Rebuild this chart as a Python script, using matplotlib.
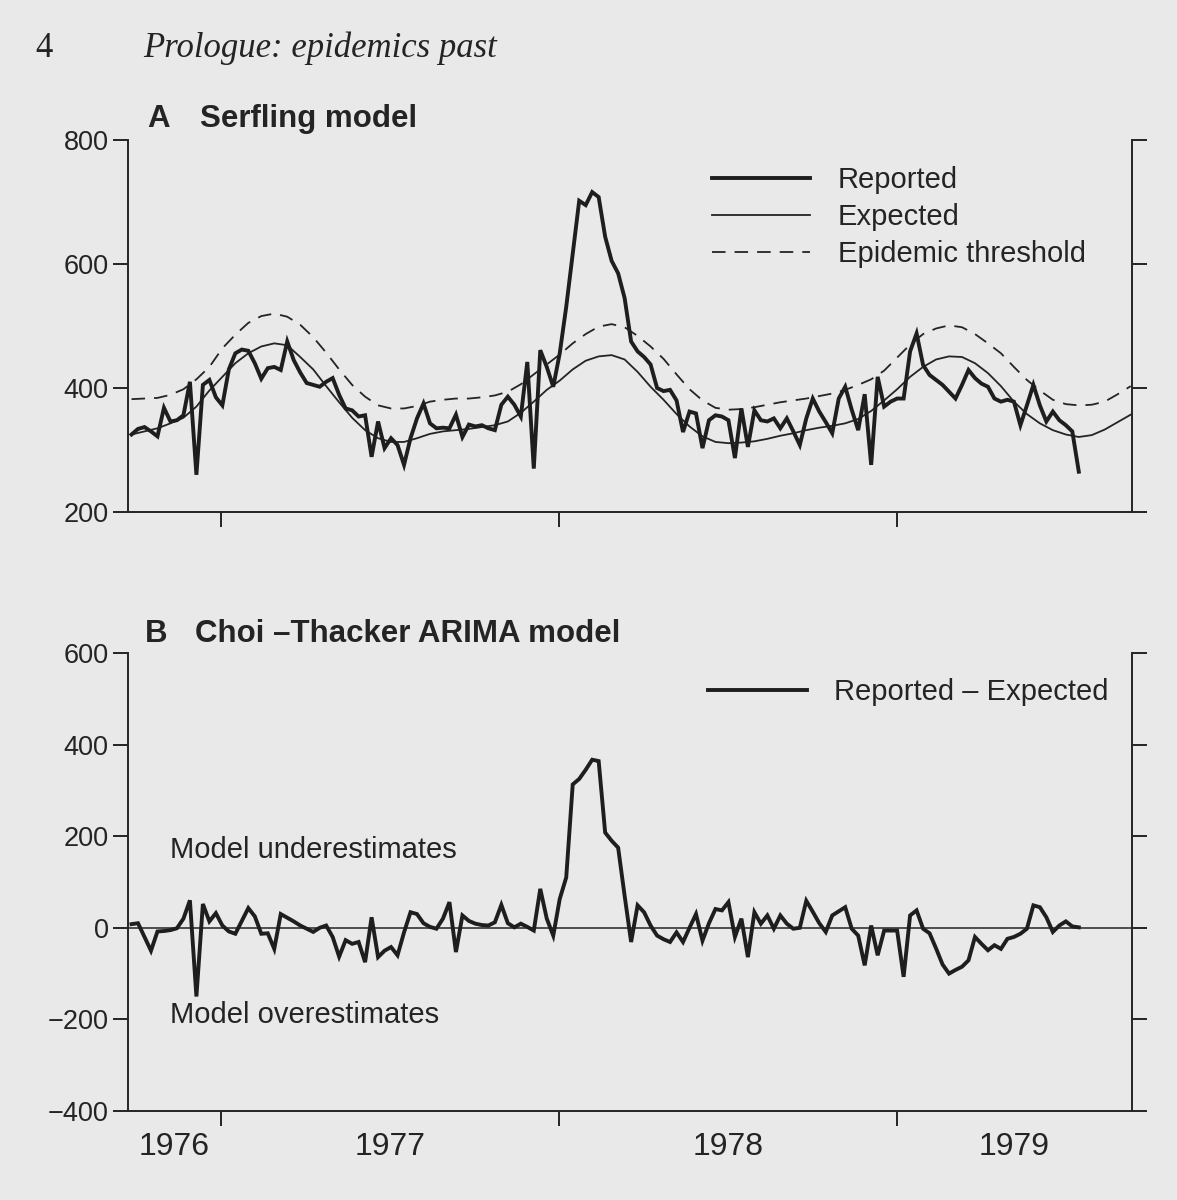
import numpy as np
import pandas as pd
import matplotlib
matplotlib.use('Agg')
import matplotlib.pyplot as plt
import matplotlib.dates as mdates
from matplotlib.ticker import FixedLocator, FixedFormatter, NullFormatter
from matplotlib import font_manager

# ---------------- data ----------------
# weekly series, first week starting 1976-09-27
reported = [
    325, 334, 337, 330, 322, 368, 346, 348, 356, 410,
    260, 405, 413, 385, 372, 430, 456, 462, 460, 440,
    415, 432, 434, 429, 475, 445, 425, 408, 405, 402,
    410, 416, 389, 367, 364, 354, 356, 289, 346, 303,
    319, 308, 276, 319, 351, 375, 343, 335, 336, 335,
    357, 321, 341, 338, 340, 335, 332, 373, 386, 373,
    354, 442, 270, 461, 434, 402, 456, 531, 617, 702,
    695, 716, 708, 644, 605, 585, 545, 475, 459, 450,
    438, 400, 395, 397, 380, 329, 362, 359, 303, 348,
    356, 354, 348, 287, 367, 305, 364, 348, 346, 351,
    335, 351, 330, 308, 351, 383, 362, 345, 327, 383,
    402, 365, 332, 390, 276, 418, 370, 378, 383, 383,
    459, 488, 437, 421, 413, 405, 394, 383, 405, 429,
    416, 407, 402, 383, 378, 381, 378, 340, 372, 405,
    372, 346, 362, 348, 340, 330, 265]

# Serfling expected and epidemic threshold, every two weeks
expected = [
    325, 330, 335, 343, 352, 370, 396, 418, 440, 456,
    467, 472, 469, 450, 430, 403, 377, 352, 332, 319,
    313, 313, 319, 326, 330, 332, 334, 337, 340, 346,
    360, 378, 397, 412, 430, 444, 451, 453, 446, 426,
    402, 381, 358, 338, 322, 313, 311, 312, 314, 318,
    323, 327, 332, 336, 339, 343, 350, 363, 380, 398,
    418, 434, 446, 451, 450, 440, 424, 403, 378, 358,
    343, 332, 325, 321, 324, 333, 345, 357]
threshold = [
    382, 383, 384, 389, 398, 414, 434, 464, 486, 505,
    516, 520, 515, 502, 482, 457, 430, 405, 386, 372,
    367, 367, 371, 378, 381, 383, 383, 385, 388, 394,
    406, 422, 438, 454, 472, 487, 499, 503, 498, 484,
    467, 447, 422, 398, 380, 368, 365, 366, 369, 373,
    377, 380, 383, 387, 391, 397, 405, 414, 428, 449,
    470, 487, 496, 501, 498, 487, 472, 456, 434, 413,
    396, 381, 374, 372, 373, 378, 390, 403]

# Choi-Thacker ARIMA residual (reported - expected), weekly
residual = [
    8, 10, -20, -50, -8, -7, -5, -1, 20, 60,
    -150, 52, 14, 32, 5, -8, -13, 15, 43, 25,
    -13, -12, -46, 30, 22, 14, 5, -2, -9, 0,
    5, -20, -63, -27, -35, -31, -75, 23, -64, -50,
    -42, -60, -10, 34, 30, 10, 2, -2, 20, 56,
    -53, 27, 15, 9, 6, 5, 12, 50, 10, 1,
    9, 2, -6, 85, 20, -17, 63, 110, 313, 325,
    345, 367, 364, 208, 190, 175, 70, -31, 49, 34,
    5, -17, -25, -31, -10, -31, 0, 30, -28, 10,
    41, 38, 56, -20, 20, -64, 34, 9, 27, -2,
    27, 9, -2, 0, 59, 35, 10, -9, 27, 36,
    45, -2, -17, -82, 5, -60, -6, -6, -6, -107,
    27, 38, -2, -12, -45, -80, -100, -92, -85, -71,
    -20, -35, -49, -38, -46, -24, -20, -13, -2, 49,
    45, 23, -9, 5, 14, 3, 1]

year_labels = ['1976', '1977', '1978', '1979']
yticks_A = [200, 400, 600, 800]
yticks_B = [-400, -200, 0, 200, 400, 600]

start = pd.Timestamp('1976-09-27')
weeks = pd.date_range(start, periods=len(reported), freq='7D')
weeks2 = pd.date_range(start, periods=len(expected), freq='14D')

# ---------------- styling ----------------
names = {f.name for f in font_manager.fontManager.ttflist}
narrow = 'Liberation Sans Narrow' if 'Liberation Sans Narrow' in names else 'Liberation Sans'
plt.rcParams['font.family'] = ['Liberation Sans', 'DejaVu Sans']
ink = '#242424'

W, H = 1177, 1200
def fx(px):
    return px / W
def fy(py):
    return 1 - py / H

fig = plt.figure(figsize=(W / 100, H / 100), dpi=100)
fig.patch.set_facecolor('#e9e9e9')

L, R = 128, 1132
axA = fig.add_axes([fx(L), fy(512), fx(R) - fx(L), fy(140) - fy(512)])
axB = fig.add_axes([fx(L), fy(1111), fx(R) - fx(L), fy(653) - fy(1111)])

x0 = mdates.date2num(start - pd.Timedelta(days=3.8))
x1 = mdates.date2num(start + pd.Timedelta(weeks=154.2))
bounds = [mdates.date2num(pd.Timestamp(f'{y}-01-01')) for y in (1977, 1978, 1979)]
centers = [(x0 + bounds[0]) / 2,
           (bounds[0] + bounds[1]) / 2,
           (bounds[1] + bounds[2]) / 2,
           (bounds[2] + x1) / 2]

for ax in (axA, axB):
    ax.set_facecolor('none')
    ax.spines['top'].set_visible(False)
    for s in ('left', 'right', 'bottom'):
        ax.spines[s].set_color(ink)
        ax.spines[s].set_linewidth(1.4)
    ax.set_xlim(x0, x1)
    ax.xaxis.set_major_locator(FixedLocator(bounds))
    ax.xaxis.set_major_formatter(NullFormatter())
    ax.xaxis.set_minor_locator(FixedLocator(centers))
    ax.tick_params(axis='y', which='major', direction='out', length=10.5, width=1.4,
                   color=ink, left=True, right=True, labelleft=True, labelright=False,
                   labelsize=19.5, labelcolor=ink, pad=3.5)
    ax.tick_params(axis='x', which='major', direction='out', length=10.5, width=1.4,
                   color=ink)
    ax.tick_params(axis='x', which='minor', length=0, pad=15, labelcolor=ink)

axA.xaxis.set_minor_formatter(NullFormatter())
axB.xaxis.set_minor_formatter(FixedFormatter(year_labels))
for lab in axB.get_xticklabels(minor=True):
    lab.set_fontfamily(narrow)
    lab.set_fontsize(25 if narrow != 'Liberation Sans' else 23)

# ---------------- panel A ----------------
axA.set_ylim(200, 800)
axA.set_yticks(yticks_A)
hT, = axA.plot(weeks2, threshold, color=ink, lw=1.3, dashes=(7.5, 5))
hE, = axA.plot(weeks2, expected, color=ink, lw=1.3)
hR, = axA.plot(weeks, reported, color='#1e1e1e', lw=2.8, solid_joinstyle='miter')
axA.legend([hR, hE, hT], ['Reported', 'Expected', 'Epidemic threshold'],
           loc='center left', bbox_to_anchor=((712 - L) / (R - L), (512 - 217) / 372),
           frameon=False, fontsize=21, handlelength=3.36, handletextpad=0.96,
           labelspacing=0.31, borderpad=0, borderaxespad=0, labelcolor=ink)

# ---------------- panel B ----------------
axB.set_ylim(-400, 600)
axB.set_yticks(yticks_B)
axB.axhline(0, color=ink, lw=1.1)
hD, = axB.plot(weeks, residual, color='#1e1e1e', lw=2.8, solid_joinstyle='miter')
axB.legend([hD], ['Reported \u2013 Expected'],
           loc='center left', bbox_to_anchor=((708 - L) / (R - L), (1111 - 692) / 458),
           frameon=False, fontsize=21, handlelength=3.4, handletextpad=0.92,
           borderpad=0, borderaxespad=0, labelcolor=ink)

# ---------------- texts ----------------
fig.text(fx(35), fy(57), '4', fontsize=25, family='Liberation Serif', color=ink, va='baseline')
fig.text(fx(143), fy(57), 'Prologue: epidemics past', fontsize=25, family='Liberation Serif',
         style='italic', color=ink, va='baseline')
fig.text(fx(147), fy(127), 'A', fontsize=22.5, fontweight='bold', color=ink, va='baseline')
fig.text(fx(200), fy(127), 'Serfling model', fontsize=22.5, fontweight='bold', color=ink,
         va='baseline')
fig.text(fx(145), fy(642), 'B', fontsize=22.5, fontweight='bold', color=ink, va='baseline')
fig.text(fx(195), fy(642), 'Choi \u2013Thacker ARIMA model', fontsize=22.5, fontweight='bold',
         color=ink, va='baseline')
fig.text(fx(170), fy(858), 'Model underestimates', fontsize=21, color=ink, va='baseline')
fig.text(fx(170), fy(1023), 'Model overestimates', fontsize=21, color=ink, va='baseline')

fig.savefig('out.png', dpi=100, facecolor=fig.get_facecolor())
